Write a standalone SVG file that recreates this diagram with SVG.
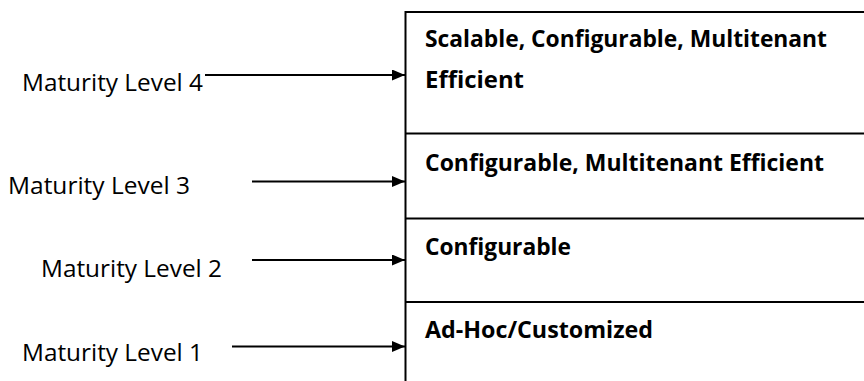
<svg xmlns="http://www.w3.org/2000/svg" width="864" height="381" viewBox="0 0 864 381">
<defs>
<marker id="ah" markerWidth="13" markerHeight="11" refX="13" refY="5.5" orient="auto" markerUnits="userSpaceOnUse">
<path d="M0,0 L13,5.5 L0,11 Z" fill="#000"/>
</marker>
<style>
.lbl{font-family:"Open Sans","Liberation Sans",sans-serif;font-size:23px;fill:#000}
.blk{font-family:"Open Sans","Liberation Sans",sans-serif;font-size:22.8px;font-weight:bold;fill:#000}
.ln{stroke:#000;stroke-width:2;fill:none}
</style>
</defs>
<rect width="864" height="381" fill="#fff"/>
<g id="stack">
<path class="ln" d="M864,12 H405.5 V381"/>
<g id="box4"><text class="blk" x="425" y="47" textLength="402" lengthAdjust="spacingAndGlyphs">Scalable, Configurable, Multitenant</text><text class="blk" x="425" y="88" textLength="99" lengthAdjust="spacingAndGlyphs">Efficient</text></g>
<line class="ln" x1="405.5" y1="133.5" x2="864" y2="133.5"/>
<g id="box3"><text class="blk" x="425" y="171" textLength="399" lengthAdjust="spacingAndGlyphs">Configurable, Multitenant Efficient</text></g>
<line class="ln" x1="405.5" y1="218.5" x2="864" y2="218.5"/>
<g id="box2"><text class="blk" x="425" y="255" textLength="146" lengthAdjust="spacingAndGlyphs">Configurable</text></g>
<line class="ln" x1="405.5" y1="302" x2="864" y2="302"/>
<g id="box1"><text class="blk" x="425" y="338" textLength="228" lengthAdjust="spacingAndGlyphs">Ad-Hoc/Customized</text></g>
</g>
<g id="ml4"><text class="lbl" x="22" y="91" textLength="181" lengthAdjust="spacingAndGlyphs">Maturity Level 4</text></g>
<g id="ml3"><text class="lbl" x="8" y="194" textLength="182" lengthAdjust="spacingAndGlyphs">Maturity Level 3</text></g>
<g id="ml2"><text class="lbl" x="41" y="277" textLength="181" lengthAdjust="spacingAndGlyphs">Maturity Level 2</text></g>
<g id="ml1"><text class="lbl" x="22" y="361" textLength="181" lengthAdjust="spacingAndGlyphs">Maturity Level 1</text></g>
<g id="connectors">
<line class="ln" x1="205" y1="75" x2="405" y2="75" marker-end="url(#ah)"/>
<line class="ln" x1="252" y1="181.5" x2="405" y2="181.5" marker-end="url(#ah)"/>
<line class="ln" x1="252" y1="260" x2="405" y2="260" marker-end="url(#ah)"/>
<line class="ln" x1="232" y1="346.5" x2="405" y2="346.5" marker-end="url(#ah)"/>
</g>
</svg>
